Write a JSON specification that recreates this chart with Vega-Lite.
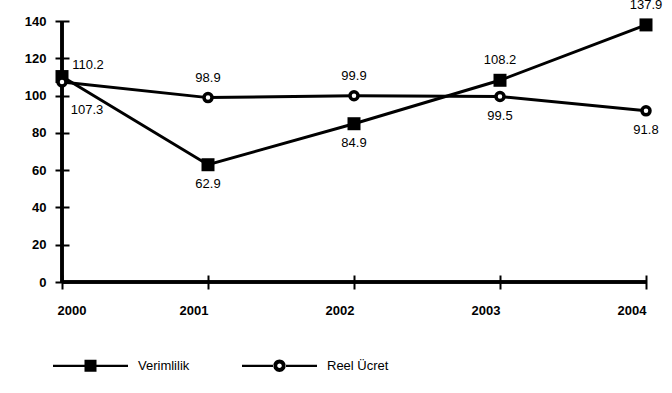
{
  "$schema": "https://vega.github.io/schema/vega-lite/v6.json",
  "width": 584,
  "height": 261,
  "autosize": {"type": "none"},
  "padding": {"left": 62, "top": 21, "right": 26, "bottom": 111},
  "background": "white",
  "config": {
    "view": {"stroke": null},
    "font": "Liberation Sans",
    "axis": {
      "labelFont": "Liberation Sans",
      "labelFontSize": 13,
      "labelFontWeight": "bold",
      "labelColor": "black",
      "tickColor": "black",
      "tickWidth": 2,
      "grid": false,
      "domain": false,
      "title": null
    },
    "legend": {"padding": 0}
  },
  "data": {
    "values": [
      {"year": "2000", "series": "Verimlilik", "value": 110.2},
      {"year": "2001", "series": "Verimlilik", "value": 62.9},
      {"year": "2002", "series": "Verimlilik", "value": 84.9},
      {"year": "2003", "series": "Verimlilik", "value": 108.2},
      {"year": "2004", "series": "Verimlilik", "value": 137.9},
      {"year": "2000", "series": "Reel Ücret", "value": 107.3},
      {"year": "2001", "series": "Reel Ücret", "value": 98.9},
      {"year": "2002", "series": "Reel Ücret", "value": 99.9},
      {"year": "2003", "series": "Reel Ücret", "value": 99.5},
      {"year": "2004", "series": "Reel Ücret", "value": 91.8}
    ]
  },
  "encoding": {
    "x": {"field": "year", "type": "ordinal", "scale": {"type": "point", "padding": 0},
          "axis": {"orient": "bottom", "labelAngle": 0, "tickSize": 14, "offset": -7, "labelPadding": 15,
                   "labelAlign": {"condition": {"test": "datum.value == '2000'", "value": "left"}, "value": "right"},
                   "labelOffset": {"condition": {"test": "datum.value == '2000'", "value": -5}, "value": 0}}},
    "y": {"field": "value", "type": "quantitative", "scale": {"domain": [0, 140], "nice": false},
          "axis": {"orient": "left", "values": [0, 20, 40, 60, 80, 100, 120, 140], "tickSize": 14, "offset": -7, "labelPadding": 9}}
  },
  "layer": [
    {
      "mark": {"type": "rule", "color": "black", "strokeWidth": 2.5},
      "encoding": {"x": {"datum": "2000"}, "y": null}
    },
    {
      "mark": {"type": "rule", "color": "black", "strokeWidth": 2.5},
      "encoding": {"y": {"datum": 0}, "x": null}
    },
    {
      "mark": {"type": "line", "color": "black", "strokeWidth": 3},
      "encoding": {
        "detail": {"field": "series"}
      }
    },
    {
      "transform": [{"filter": "datum.series == 'Verimlilik'"}],
      "mark": {"type": "point", "shape": "square", "filled": true, "color": "black", "size": 169, "opacity": 1}
    },
    {
      "transform": [{"filter": "datum.series == 'Reel Ücret'"}],
      "mark": {"type": "point", "shape": "circle", "filled": true, "fill": "white", "stroke": "black", "strokeWidth": 3.5, "size": 64, "opacity": 1}
    },
    {
      "transform": [{"filter": "(datum.series == 'Verimlilik' && (datum.year == '2003' || datum.year == '2004')) || (datum.series == 'Reel Ücret' && (datum.year == '2001' || datum.year == '2002'))"}],
      "mark": {"type": "text", "fontSize": 13, "dy": -20, "color": "black"},
      "encoding": {
        "text": {"field": "value", "type": "quantitative", "format": ".1f"}
      }
    },
    {
      "transform": [{"filter": "(datum.series == 'Verimlilik' && (datum.year == '2001' || datum.year == '2002')) || (datum.series == 'Reel Ücret' && (datum.year == '2003' || datum.year == '2004'))"}],
      "mark": {"type": "text", "fontSize": 13, "dy": 19, "color": "black"},
      "encoding": {
        "text": {"field": "value", "type": "quantitative", "format": ".1f"}
      }
    },
    {
      "transform": [{"filter": "datum.series == 'Verimlilik' && datum.year == '2000'"}],
      "mark": {"type": "text", "fontSize": 13, "dx": 26, "dy": -12, "color": "black"},
      "encoding": {
        "text": {"field": "value", "type": "quantitative", "format": ".1f"}
      }
    },
    {
      "transform": [{"filter": "datum.series == 'Reel Ücret' && datum.year == '2000'"}],
      "mark": {"type": "text", "fontSize": 13, "dx": 25, "dy": 28, "color": "black"},
      "encoding": {
        "text": {"field": "value", "type": "quantitative", "format": ".1f"}
      }
    },
    {
      "mark": {"type": "point", "filled": true, "color": "black", "opacity": 0},
      "encoding": {
        "shape": {
          "field": "series",
          "type": "nominal",
          "scale": {
            "domain": ["Verimlilik", "Reel Ücret"],
            "range": [
              "M-1,-0.03H1V0.03H-1Z M-0.16,-0.16H0.16V0.16H-0.16Z",
              "M-1,-0.03H-0.15V0.03H-1Z M0.15,-0.03H1V0.03H0.15Z M-0.165,0A0.165,0.165 0 1,0 0.165,0A0.165,0.165 0 1,0 -0.165,0Z M-0.06,0A0.06,0.06 0 1,1 0.06,0A0.06,0.06 0 1,1 -0.06,0Z"
            ]
          },
          "legend": {
            "orient": "none",
            "legendX": -9,
            "legendY": 307,
            "direction": "horizontal",
            "title": null,
            "symbolSize": 5625,
            "symbolFillColor": "black",
            "symbolStrokeWidth": 0,
            "symbolOpacity": 1,
            "labelFont": "Liberation Sans",
            "labelFontSize": 13,
            "labelColor": "black",
            "labelOffset": 10,
            "columnPadding": 52
          }
        }
      }
    }
  ]
}
